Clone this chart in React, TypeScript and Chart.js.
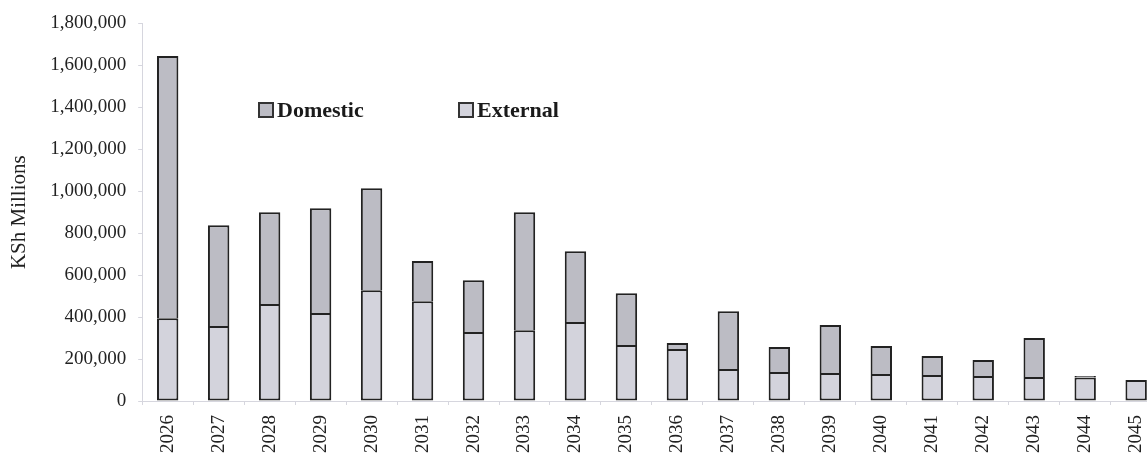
import React, { useEffect, useRef } from "react";
import { Chart, registerables } from "chart.js";

Chart.register(...registerables);

const years = ["2026","2027","2028","2029","2030","2031","2032","2033","2034","2035","2036","2037","2038","2039","2040","2041","2042","2043","2044","2045"];
const externalValues = [395000,357000,462000,419000,528000,475000,329000,337000,376000,267000,248000,152000,138000,133000,129000,124000,119000,114000,112000,100000];
const domesticValues = [1250000,481000,438000,500000,486000,192000,247000,563000,338000,247000,28000,276000,119000,229000,133000,90000,76000,186000,7000,0];
const yTicks = [0,200000,400000,600000,800000,1000000,1200000,1400000,1600000,1800000];
const legendNames = ["Domestic", "External"];
const domesticColor = "#bcbcc4";
const externalColor = "#d3d3dc";
const borderColor = "#222222";
const axisColor = "#d6d6de";
const FONT = "'Liberation Serif', 'Times New Roman', serif";

export default function App() {
  const ref = useRef<HTMLCanvasElement | null>(null);
  useEffect(() => {
    if (!ref.current) return;
    const chart = new Chart(ref.current, {
      type: "bar",
      data: {
        labels: years,
        datasets: [
          { label: "External", data: externalValues, backgroundColor: externalColor, borderColor, borderWidth: 2, borderSkipped: false, categoryPercentage: 1, barPercentage: 0.42 },
          { label: "Domestic", data: domesticValues, backgroundColor: domesticColor, borderColor, borderWidth: 2, borderSkipped: "bottom", categoryPercentage: 1, barPercentage: 0.42 },
        ],
      },
      options: {
        animation: false,
        responsive: true,
        maintainAspectRatio: false,
        layout: { padding: { top: 14, left: 7, right: 2, bottom: 0 } },
        plugins: { legend: { display: false }, tooltip: { enabled: false } },
        scales: {
          x: {
            stacked: true,
            grid: { offset: true, drawOnChartArea: false, drawTicks: true, tickLength: 4, color: axisColor },
            border: { color: axisColor, width: 1 },
            ticks: { minRotation: 90, maxRotation: 90, padding: 10, color: "#222", font: { family: FONT, size: 19 }, autoSkip: false },
          },
          y: {
            stacked: true,
            min: 0,
            max: 1800000,
            afterBuildTicks: (scale: any) => { scale.ticks = yTicks.map((v) => ({ value: v })); },
            grid: { drawOnChartArea: false, drawTicks: true, tickLength: 4, color: axisColor },
            border: { color: axisColor, width: 1 },
            ticks: { padding: 12, color: "#222", font: { family: FONT, size: 19 }, callback: (v: any) => Number(v).toLocaleString("en-US") },
            title: { display: true, text: "KSh Millions", color: "#222", font: { family: FONT, size: 21 }, padding: { top: 0, bottom: 6 } },
          },
        },
      },
    });
    return () => chart.destroy();
  }, []);

  const legendFill = [domesticColor, externalColor];
  const legendLeft = [258, 458];

  return (
    <div style={{ position: "fixed", left: 0, top: 0, width: 1147, height: 457, overflow: "hidden", background: "#fff" }}>
      <div style={{ position: "absolute", left: 0, top: 0, width: 1169, height: 463 }}>
        <canvas ref={ref} />
      </div>
      {legendNames.map((name, i) => (
        <div key={name} style={{ position: "absolute", left: legendLeft[i], top: 97, display: "flex", alignItems: "center", fontFamily: FONT, fontWeight: "bold", fontSize: 22, color: "#1a1a1a", whiteSpace: "nowrap" }}>
          <span style={{ display: "inline-block", width: 12, height: 12, border: "2px solid #333", background: legendFill[i], marginRight: 3 }} />
          {name}
        </div>
      ))}
    </div>
  );
}
